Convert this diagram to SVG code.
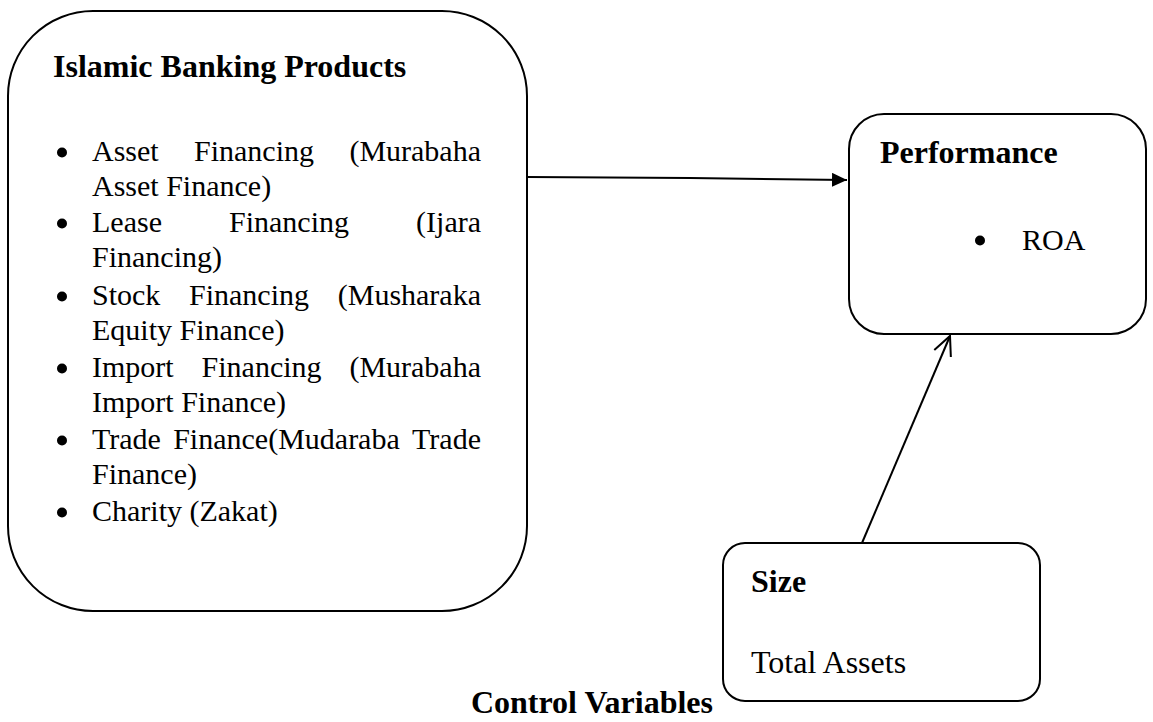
<svg xmlns="http://www.w3.org/2000/svg" width="1153" height="722" viewBox="0 0 1153 722">
<defs>
<style>
.box{fill:#fff;stroke:#000;stroke-width:2}
.t{font-family:"Liberation Serif","Times New Roman",serif;font-size:30px;fill:#000}
.b{font-family:"Liberation Serif","Times New Roman",serif;font-size:32px;font-weight:bold;fill:#000}
.ln{fill:none;stroke:#000;stroke-width:2}
</style>
<marker id="tri" markerWidth="16" markerHeight="14" refX="15" refY="7" orient="auto" markerUnits="userSpaceOnUse">
<path d="M0,0 L15,7 L0,14 Z" fill="#000"/>
</marker>
<marker id="open" markerWidth="24" markerHeight="24" refX="20" refY="10" orient="auto" markerUnits="userSpaceOnUse">
<path d="M1,1 L20,10 L1,19" fill="none" stroke="#000" stroke-width="2"/>
</marker>
</defs>
<rect width="1153" height="722" fill="#fff"/>
<g id="products">
<rect class="box" x="8" y="11" width="519" height="600" rx="85" ry="85"/>
<text class="b" x="53" y="77">Islamic Banking Products</text>
<g fill="#000">
<circle cx="62" cy="152.5" r="5"/>
<circle cx="62" cy="223.5" r="5"/>
<circle cx="62" cy="296.5" r="5"/>
<circle cx="62" cy="368.5" r="5"/>
<circle cx="62" cy="440.5" r="5"/>
<circle cx="62" cy="512.5" r="5"/>
</g>
<text class="t" y="161"><tspan x="92">Asset</tspan><tspan x="194">Financing</tspan><tspan x="481" text-anchor="end">(Murabaha</tspan></text>
<text class="t" x="92" y="196">Asset Finance)</text>
<text class="t" y="232"><tspan x="92">Lease</tspan><tspan x="229">Financing</tspan><tspan x="481" text-anchor="end">(Ijara</tspan></text>
<text class="t" x="92" y="267">Financing)</text>
<text class="t" y="305"><tspan x="92">Stock</tspan><tspan x="189">Financing</tspan><tspan x="481" text-anchor="end">(Musharaka</tspan></text>
<text class="t" x="92" y="340">Equity Finance)</text>
<text class="t" y="377"><tspan x="92">Import</tspan><tspan x="201.6">Financing</tspan><tspan x="481" text-anchor="end">(Murabaha</tspan></text>
<text class="t" x="92" y="412">Import Finance)</text>
<text class="t" y="449"><tspan x="92">Trade</tspan><tspan x="173.2">Finance(Mudaraba</tspan><tspan x="481" text-anchor="end">Trade</tspan></text>
<text class="t" x="92" y="484">Finance)</text>
<text class="t" x="92" y="521">Charity (Zakat)</text>
</g>
<g id="performance">
<rect class="box" x="849" y="114" width="297" height="220" rx="35" ry="35"/>
<text class="b" x="880" y="163">Performance</text>
<circle cx="980" cy="240.5" r="5" fill="#000"/>
<text class="t" x="1022" y="250">ROA</text>
</g>
<g id="size">
<rect class="box" x="723" y="543" width="317" height="158" rx="22" ry="22"/>
<text class="b" x="751" y="592">Size</text>
<text class="t" x="751" y="673" style="font-size:32px">Total Assets</text>
</g>
<g id="control-label">
<text class="b" x="713" y="713" text-anchor="end">Control Variables</text>
</g>
<g id="connectors">
<path class="ln" d="M527,177 L690,178 L847,180" marker-end="url(#tri)"/>
<path class="ln" d="M862,543 L950,336" marker-end="url(#open)"/>
</g>
</svg>
